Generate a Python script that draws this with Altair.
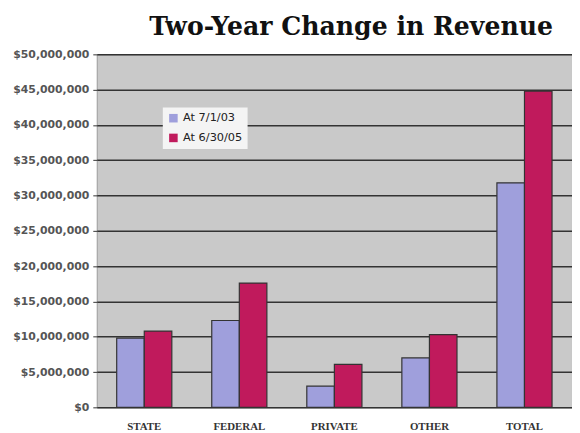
import altair as alt
import pandas as pd

categories = ["STATE", "FEDERAL", "PRIVATE", "OTHER", "TOTAL"]
series = ["At 7/1/03", "At 6/30/05"]
values_2003 = [9.8e6, 12.3e6, 3.0e6, 7.0e6, 31.8e6]
values_2005 = [10.8e6, 17.6e6, 6.1e6, 10.3e6, 44.8e6]
y_ticks = [0, 5e6, 10e6, 15e6, 20e6, 25e6, 30e6, 35e6, 40e6, 45e6, 50e6]
colors = ["#9f9fdc", "#c01a5c"]

rows = []
for c, a, b in zip(categories, values_2003, values_2005):
    rows.append({"cat": c, "series": series[0], "value": a})
    rows.append({"cat": c, "series": series[1], "value": b})
df = pd.DataFrame(rows)

chart = alt.Chart(df).mark_bar(stroke="#333333", strokeWidth=1.2).encode(
    x=alt.X("cat:N", sort=categories, title=None,
            scale=alt.Scale(paddingInner=0.42, paddingOuter=0.21),
            axis=alt.Axis(labelAngle=0, domain=False, ticks=False, labelPadding=13,
                          labelFont="Liberation Serif", labelFontWeight="bold",
                          labelFontSize=11, labelColor="#333333")),
    xOffset=alt.XOffset("series:N", sort=series),
    y=alt.Y("value:Q", title=None,
            scale=alt.Scale(domain=[0, 50e6], nice=False),
            axis=alt.Axis(values=y_ticks, format="$,.0f", domain=False,
                          tickSize=4, tickColor="#333333", labelPadding=4,
                          gridColor="#333333", gridWidth=1.5,
                          labelFont="DejaVu Sans", labelFontWeight="bold",
                          labelFontSize=11, labelColor="#555555")),
    color=alt.Color("series:N", sort=series,
                    scale=alt.Scale(domain=series, range=colors),
                    legend=alt.Legend(title=None, orient="none", legendX=67, legendY=54,
                                      fillColor="#f4f4f4", padding=5, rowPadding=7,
                                      symbolType="square", symbolSize=75,
                                      symbolStrokeWidth=0,
                                      labelFont="DejaVu Sans", labelFontSize=11.5,
                                      labelColor="#222222")),
).properties(
    width=482, height=358,
    title=alt.TitleParams("Two-Year Change in Revenue", font="DejaVu Serif",
                          fontWeight="bold", fontSize=25.5, color="#111111",
                          anchor="middle", dx=17, offset=8),
    autosize=alt.AutoSizeParams(type="none"),
    padding={"left": 90, "top": 44, "right": 0, "bottom": 23},
).configure(
    background="white"
).configure_view(
    fill="#c9c9c9", stroke="#999999"
)

chart.save("out.html", embed_options={"renderer": "svg", "actions": False})
